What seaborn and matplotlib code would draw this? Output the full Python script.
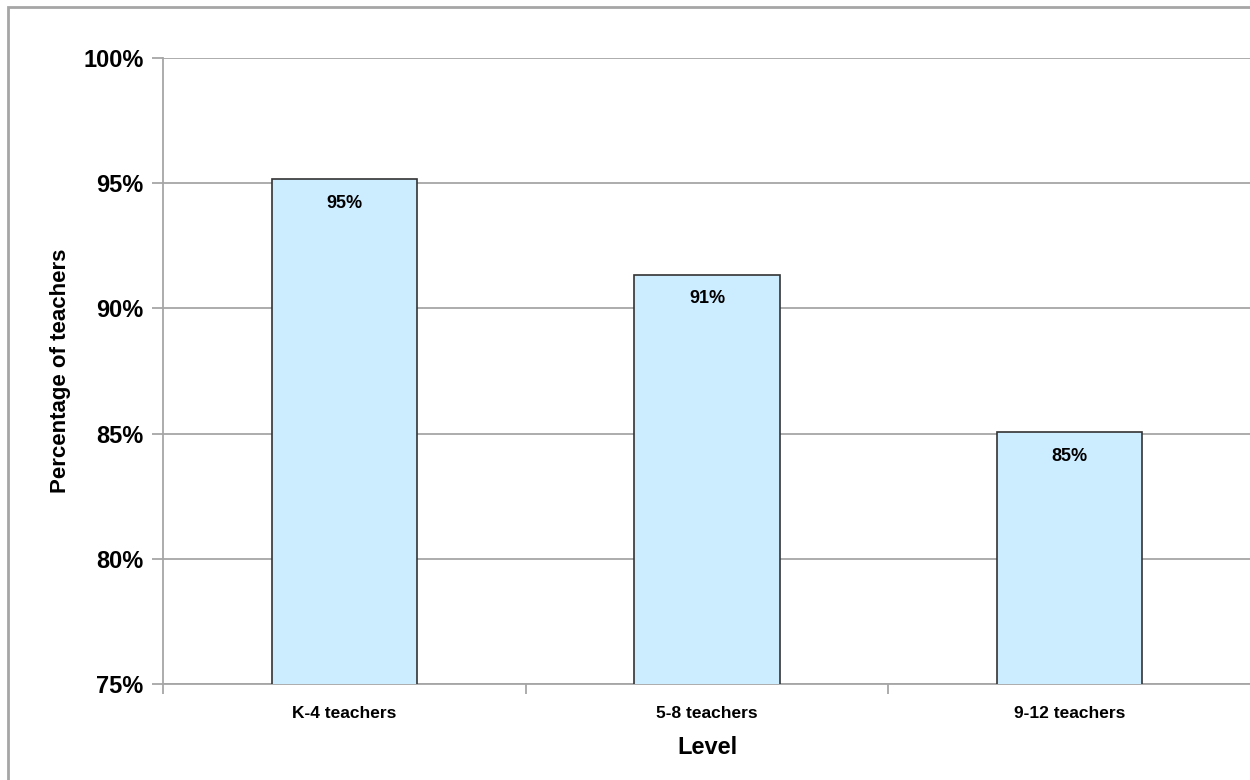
import matplotlib
matplotlib.use("Agg")
import matplotlib.pyplot as plt
import seaborn as sns
import pandas as pd
from matplotlib.patches import Rectangle

levels = ["K-4 teachers", "5-8 teachers", "9-12 teachers"]
percent = [95.15, 91.35, 85.05]
value_labels = ["95%", "91%", "85%"]
y_ticks = [75, 80, 85, 90, 95, 100]
y_tick_labels = ["75%", "80%", "85%", "90%", "95%", "100%"]

sns.set_theme(style="white")
plt.rcParams['font.family'] = ["Liberation Sans", 'DejaVu Sans']
plt.rcParams['text.color'] = "black"
plt.rcParams['axes.labelcolor'] = "black"
plt.rcParams['xtick.color'] = "black"
plt.rcParams['ytick.color'] = "black"

df = pd.DataFrame({"Level": levels, "Percent": percent})

fig = plt.figure(figsize=(12.5, 7.8), dpi=100)
ax = fig.add_axes([163/1250, 1-684/780, 1088/1250, (684-58)/780])

sns.barplot(data=df, x="Level", y="Percent", color="#CCECFF", width=0.4,
            edgecolor="#333333", linewidth=1.2, saturation=1, ax=ax, zorder=3)

ax.set_ylim(75, 100)
ax.set_xlim(-0.5, 2.5)
ax.set_yticks(y_ticks)
ax.set_yticklabels(y_tick_labels, fontsize=17, fontweight="bold")
ax.set_xticks([0, 1, 2])
ax.set_xticklabels(levels, fontsize=12.5, fontweight="bold")
ax.yaxis.grid(True, color="#a6a6a6", linewidth=1.3, zorder=0)
ax.set_axisbelow(True)

for s in ["top", "right"]:
    ax.spines[s].set_visible(False)
for s in ["left", "bottom"]:
    ax.spines[s].set_color("#a6a6a6")
    ax.spines[s].set_linewidth(1.3)

ax.tick_params(axis="y", which="major", left=True, length=8, width=1.3, color="#a6a6a6", labelcolor="black", pad=6)
ax.tick_params(axis="x", which="major", bottom=False, labelcolor="black", pad=10)
ax.set_xticks([-0.5, 0.5, 1.5, 2.5], minor=True)
ax.tick_params(axis="x", which="minor", bottom=True, length=7, width=1.3, color="#a6a6a6")

for i, (v, lab) in enumerate(zip(percent, value_labels)):
    ax.text(i, v - 0.95, lab, ha="center", va="center", fontsize=13, fontweight="bold", color="black", zorder=4)

ax.set_xlabel("Level", fontsize=17, fontweight="bold", labelpad=11, color="black")
ax.set_ylabel("Percentage of teachers", fontsize=16, fontweight="bold", labelpad=9, color="black")

fig.patches.append(Rectangle((8/1250, -0.1), 1.2, 1.1 - 7/780, transform=fig.transFigure,
                             fill=False, edgecolor="#a6a6a6", linewidth=2, zorder=0))

fig.savefig("out.png", dpi=100)
